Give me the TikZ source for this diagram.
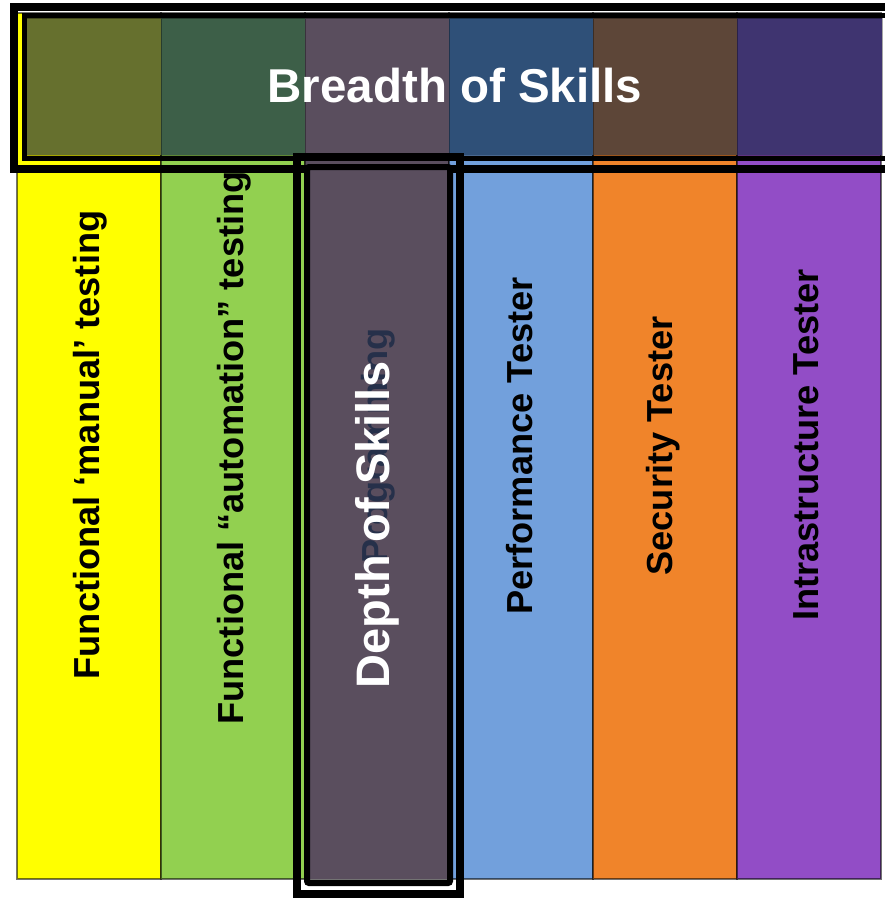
\documentclass[tikz,border=0pt]{standalone}
\usepackage{fontspec}
\setmainfont{Liberation Sans}
\definecolor{cA}{HTML}{FFFF00}
\definecolor{cB}{HTML}{92D050}
\definecolor{cC}{HTML}{5A4E5E}
\definecolor{cD}{HTML}{72A0DC}
\definecolor{cE}{HTML}{F0842A}
\definecolor{cF}{HTML}{924DC6}
\definecolor{bA}{HTML}{66702E}
\definecolor{bB}{HTML}{3D5F48}
\definecolor{bC}{HTML}{5A4E5E}
\definecolor{bD}{HTML}{2F5078}
\definecolor{bE}{HTML}{5D4638}
\definecolor{bF}{HTML}{3F3470}
\definecolor{progtxt}{HTML}{26304A}
\tikzset{
  colbox/.style={draw=black, draw opacity=0.55, line width=1.5pt},
  bandbox/.style={draw=black, draw opacity=0.35, line width=1pt},
  vlabel/.style={rotate=90, font=\bfseries\fontsize{36.2}{40}\selectfont, text=black, inner sep=0pt},
  frameouter/.style={draw=black, line width=8pt},
  frameinner/.style={draw=black, line width=6pt, rounded corners=2pt},
}
\begin{document}
\begin{tikzpicture}[x=1pt,y=-1pt]
\useasboundingbox (0,0) rectangle (885,898);
\fill[white] (0,0) rectangle (885,898);
% columns
\path[fill=cA, colbox] (17,13) rectangle (161,879);
\path[fill=cB, colbox] (161,13) rectangle (305,879);
\path[fill=cC, colbox] (305,13) rectangle (449,879);
\path[fill=cD, colbox] (449,13) rectangle (593,879);
\path[fill=cE, colbox] (593,13) rectangle (737,879);
\path[fill=cF, colbox] (737,13) rectangle (881,879);
% column labels
\node[vlabel] (l1) at (90,445) {Functional ‘manual’ testing};
\node[vlabel] (l2) at (234,448) {Functional “automation” testing};
\node[vlabel] (l4) at (520,446) {Performance Tester};
\node[vlabel] (l5) at (663,446) {Security Tester};
\node[vlabel] (l6) at (806,445) {Intrastructure Tester};
% band overlay
\path[fill=bA, bandbox] (26,18) rectangle (161,155);
\path[fill=bB, bandbox] (161,18) rectangle (305,155);
\path[fill=bC, bandbox] (305,18) rectangle (449,155);
\path[fill=bD, bandbox] (449,18) rectangle (593,155);
\path[fill=bE, bandbox] (593,18) rectangle (737,155);
\path[fill=bF, bandbox] (737,18) rectangle (882,155);
% band frames
\draw[draw=black, line width=5.5pt] (24.5,15.5) rectangle (888,158.5);
\draw[frameouter] (14,6.5) rectangle (893,169);
% depth column and frames
\fill[cC] (310,170) rectangle (447,879);
\node[vlabel, text=progtxt] (l3) at (378,446) {Programming};
\draw[frameouter] (297,157) rectangle (460,894);
\draw[frameinner] (307,167) rectangle (450,883);
% titles
\node[font=\bfseries\fontsize{47.5}{52}\selectfont, text=white, inner sep=0pt] (breadth) at (455,86) {Breadth of Skills};
\node[rotate=90, font=\bfseries\fontsize{47}{52}\selectfont, text=white, inner sep=0pt] (depth) at (377,525) {Depth of Skills};
\end{tikzpicture}
\end{document}
